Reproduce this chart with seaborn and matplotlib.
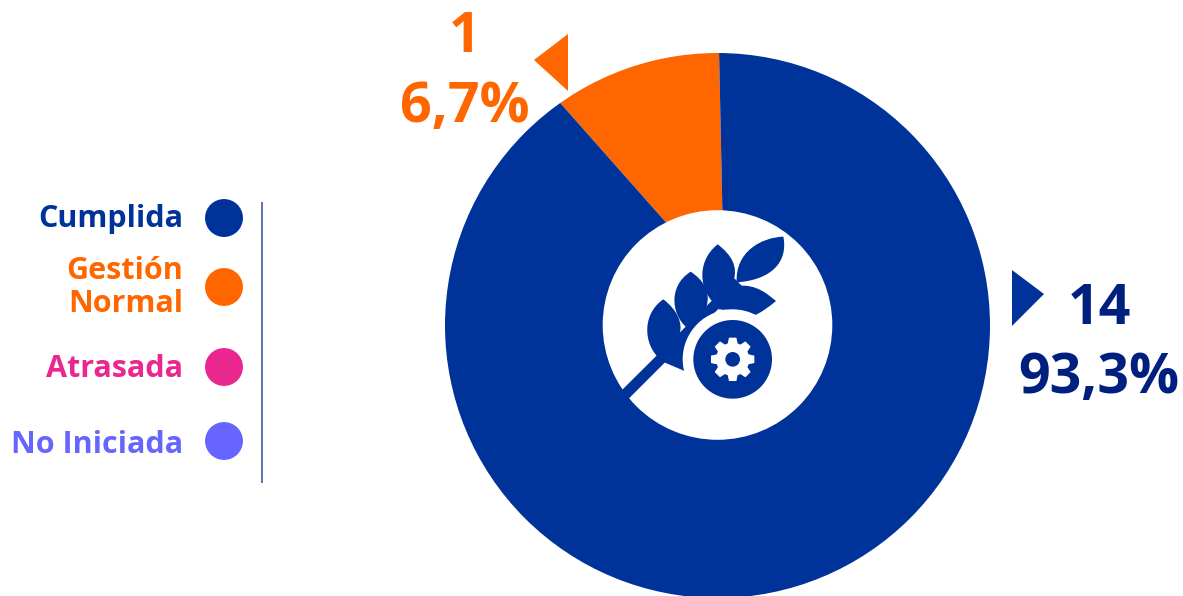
import numpy as np
import pandas as pd
import matplotlib
matplotlib.use("Agg")
import matplotlib.pyplot as plt
from matplotlib.patches import Circle, PathPatch, Polygon
from matplotlib.path import Path
import seaborn as sns

# ---- data ----
categories = ["Cumplida", "Gestión\nNormal", "Atrasada", "No Iniciada"]
colors = ["#003399", "#FF6600", "#E9278F", "#6666FF"]
# slice shares as drawn in the picture (orange, blue)
drawn_shares = [11.2, 88.8]
slice_colors = ["#FF6600", "#003399"]
count_labels = ["1", "14"]
percent_labels = ["6,7%", "93,3%"]

# ---- layout ----
W, H = 1183, 596
FONT = "Open Sans"
BLUE, ORANGE, NAVY = "#003399", "#FF6600", "#00207F"
legend_dot_y = [218, 287, 367, 441]
legend_text_y = [[227], [279, 312], [377], [453]]

sns.set_theme(style="white")
plt.rcParams["font.family"] = [FONT, "DejaVu Sans"]

fig = plt.figure(figsize=(W / 100, H / 100), dpi=100, facecolor="white")
ax = fig.add_axes([0, 0, 1, 1])


def py(y):
    return H - y


def z(x, y):
    """Icon coordinates (as measured on a 3x crop) to axes coordinates."""
    return 590 + x / 3, py(220 + y / 3)


# ---- donut ----
disc = Circle((717.5, py(325.5)), 272.5, transform=ax.transData)
wedges, _ = ax.pie(
    drawn_shares, colors=slice_colors, startangle=91.2, counterclock=True,
    center=(724, py(288)), radius=320, frame=False,
    wedgeprops={"linewidth": 0},
)
for w in wedges:
    w.set_clip_on(True)
    w.set_clip_path(disc)
ax.set_xlim(0, W)
ax.set_ylim(0, H)
ax.set_aspect("equal")
ax.axis("off")
ax.add_patch(Circle((717.5, py(325)), 114.8, fc="white", ec="none", zorder=3))


# ---- centre icon ----
def cubic(start, *segs):
    verts, codes = [z(*start)], [Path.MOVETO]
    for seg in segs:
        if len(seg) == 1:
            verts.append(z(*seg[0]))
            codes.append(Path.LINETO)
        else:
            verts.extend(z(*p) for p in seg)
            codes.extend([Path.CURVE4] * 3)
    verts.append(z(*start))
    codes.append(Path.CLOSEPOLY)
    return Path(verts, codes)


leaves = [
    cubic((225, 428), [(160, 390), (150, 285), (220, 238)],
          [(262, 270), (280, 310), (268, 345)], [(300, 345)], [(300, 460)]),
    cubic((300, 330), [(245, 295), (230, 200), (302, 155)],
          [(340, 180), (362, 215), (350, 258)], [(335, 300)]),
    cubic((400, 270), [(330, 235), (310, 130), (383, 73)],
          [(425, 105), (445, 140), (430, 185)], [(445, 205)]),
    cubic((440, 187), [(435, 95), (515, 52), (580, 50)],
          [(595, 125), (545, 180), (440, 187)]),
    cubic((440, 198), [(500, 190), (535, 225), (558, 243)],
          [(535, 262), (510, 280), (495, 285)],
          [(460, 270), (420, 270), (385, 268)], [(420, 190)]),
]
for p in leaves:
    ax.add_patch(PathPatch(p, fc=BLUE, ec="none", zorder=4))
stem = [(92, 514), (114, 538), (455, 197), (433, 175)]
ax.add_patch(Polygon([z(*p) for p in stem], fc=BLUE, ec="none", zorder=4))

gear_c = (428, 418)
ax.add_patch(Circle(z(*gear_c), 150 / 3, fc="white", ec="none", zorder=5))
ax.add_patch(Circle(z(*gear_c), 118 / 3, fc=BLUE, ec="none", zorder=6))
gear_pts = []
for k in range(8):
    a0 = np.pi / 2 + k * np.pi / 4
    for da, r in [(-0.30, 50), (-0.17, 66), (0.17, 66), (0.30, 50)]:
        gear_pts.append(z(gear_c[0] + r * np.cos(a0 + da), gear_c[1] + r * np.sin(a0 + da)))
ax.add_patch(Polygon(gear_pts, fc="white", ec="none", zorder=7))
ax.add_patch(Circle(z(*gear_c), 22 / 3, fc=BLUE, ec="none", zorder=8))

# ---- legend ----
df = pd.DataFrame({"cat": categories, "x": [224] * 4, "y": [py(v) for v in legend_dot_y]})
sns.scatterplot(data=df, x="x", y="y", hue="cat", palette=colors, s=745,
                linewidth=0, legend=False, ax=ax, zorder=5, clip_on=False)
ax.set_xlim(0, W)
ax.set_ylim(0, H)
ax.axis("off")
for cat, col, ys in zip(categories, colors, legend_text_y):
    for line, y in zip(cat.split("\n"), ys):
        ax.text(183.5, py(y), line, color=col, fontsize=22, fontweight="bold",
                ha="right", va="baseline", family=FONT)
ax.plot([262.5, 262.5], [py(202), py(483)], color="#2F4F9F", lw=1.1, solid_capstyle="butt")

# ---- callouts ----
ax.add_patch(Polygon([(568, py(34)), (568, py(91)), (534, py(60))], fc=ORANGE, ec="none"))
ax.add_patch(Polygon([(1012, py(270)), (1012, py(326)), (1044, py(294))], fc=BLUE, ec="none"))
big = dict(fontsize=40, fontweight="bold", va="baseline", family=FONT)
ax.text(465, py(52), count_labels[0], color=ORANGE, ha="center", **big)
ax.text(465, py(122), percent_labels[0], color=ORANGE, ha="center", **big)
ax.text(1099, py(324), count_labels[1], color=NAVY, ha="center", **big)
ax.text(1098.5, py(393), percent_labels[1], color=NAVY, ha="center", **big)

fig.savefig("out.png", dpi=100, facecolor="white")
